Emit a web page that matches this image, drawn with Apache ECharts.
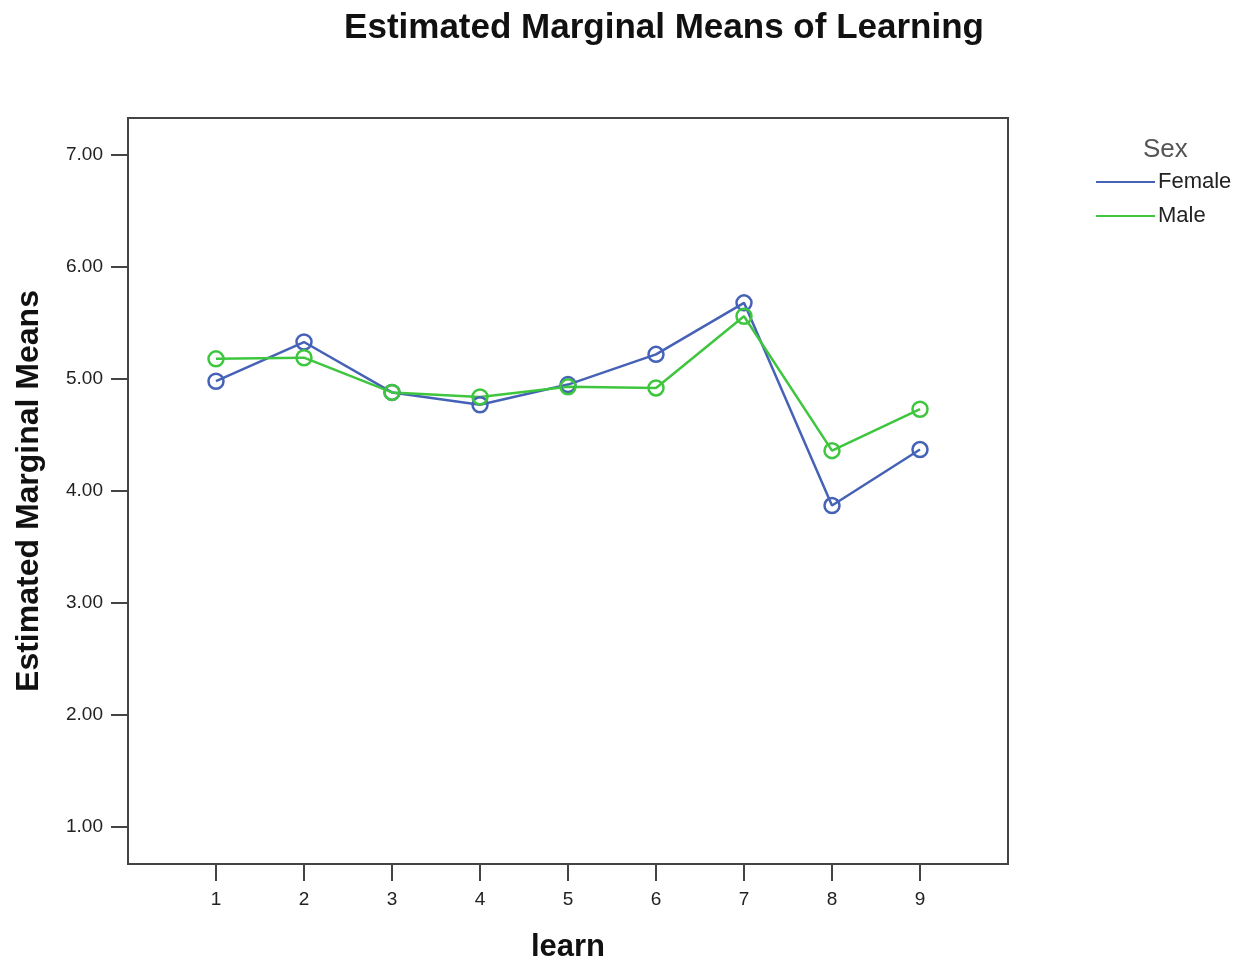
<!DOCTYPE html>
<html>
<head>
<meta charset="utf-8">
<script src="https://cdn.jsdelivr.net/npm/echarts@6/dist/echarts.min.js"></script>
<style>
  html, body { margin: 0; padding: 0; background: #fff; }
  #chart { width: 1248px; height: 964px; }
</style>
</head>
<body>
<div id="chart"></div>
<script>
// learn levels and estimated marginal means per sex
var learnLevels = [1, 2, 3, 4, 5, 6, 7, 8, 9];
var female = [4.98, 5.33, 4.88, 4.77, 4.95, 5.22, 5.68, 3.87, 4.37];
var male = [5.18, 5.19, 4.88, 4.84, 4.93, 4.92, 5.56, 4.36, 4.73];
var yTicks = [1, 2, 3, 4, 5, 6, 7];

var blue = "#4562b7";
var green = "#3fc63f";
var axisColor = "#444";
var font = "Liberation Sans, Arial, sans-serif";

function pairs(vals) {
  return learnLevels.map(function (x, i) {
    return [x, vals[i]];
  });
}

var myChart = echarts.init(document.getElementById("chart"));
var option = {
  backgroundColor: "#fff",
  animation: false,
  title: [
    {
      text: "Estimated Marginal Means of Learning",
      left: 664,
      top: 11,
      padding: 0,
      textAlign: "center",
      textStyle: { fontFamily: font, fontSize: 35, fontWeight: "bold", color: "#111" },
    },
    {
      text: "Sex",
      left: 1143,
      top: 137,
      padding: 0,
      textStyle: { fontFamily: font, fontSize: 26, fontWeight: "normal", color: "#555" },
    },
  ],
  legend: {
    orient: "vertical",
    left: 1096,
    top: 171,
    padding: 0,
    icon: "rect",
    itemWidth: 59,
    itemHeight: 2,
    itemGap: 12,
    textStyle: { fontFamily: font, fontSize: 22, color: "#222", lineHeight: 22, padding: [0, 0, 0, -2] },
    data: [
      { name: "Female", itemStyle: { color: blue, borderWidth: 0 } },
      { name: "Male", itemStyle: { color: green, borderWidth: 0 } },
    ],
  },
  grid: {
    left: 128,
    top: 118,
    right: 240,
    bottom: 100,
    outerBoundsMode: "none",
    show: true,
    borderColor: axisColor,
    borderWidth: 2,
  },
  xAxis: {
    type: "value",
    min: 0,
    max: 10,
    name: "learn",
    nameLocation: "middle",
    nameGap: 68,
    nameTextStyle: { fontFamily: font, fontSize: 31, fontWeight: "bold", color: "#111" },
    splitLine: { show: false },
    axisLine: { show: true, lineStyle: { color: axisColor, width: 2 } },
    axisTick: {
      show: true,
      length: 17,
      customValues: learnLevels,
      lineStyle: { color: axisColor, width: 2 },
    },
    axisLabel: {
      customValues: learnLevels,
      margin: 26,
      fontFamily: font,
      fontSize: 19,
      color: "#222",
    },
  },
  yAxis: {
    type: "value",
    min: 0.67,
    max: 7.33,
    name: "Estimated Marginal Means",
    nameLocation: "middle",
    nameGap: 83,
    nameTextStyle: { fontFamily: font, fontSize: 32, fontWeight: "bold", color: "#111" },
    splitLine: { show: false },
    axisLine: { show: true, lineStyle: { color: axisColor, width: 2 } },
    axisTick: {
      show: true,
      length: 17,
      customValues: yTicks,
      lineStyle: { color: axisColor, width: 2 },
    },
    axisLabel: {
      customValues: yTicks,
      margin: 25,
      fontFamily: font,
      fontSize: 19,
      color: "#222",
      formatter: function (v) {
        return v.toFixed(2);
      },
    },
  },
  series: [
    {
      name: "Female",
      type: "line",
      data: pairs(female),
      symbol: "circle",
      symbolSize: 15,
      lineStyle: { color: blue, width: 2.5 },
      itemStyle: { color: "rgba(0,0,0,0)", borderColor: blue, borderWidth: 2.5 },
    },
    {
      name: "Male",
      type: "line",
      data: pairs(male),
      symbol: "circle",
      symbolSize: 15,
      lineStyle: { color: green, width: 2.5 },
      itemStyle: { color: "rgba(0,0,0,0)", borderColor: green, borderWidth: 2.5 },
    },
  ],
};
myChart.setOption(option, true);
window.addEventListener("resize", function () {
  myChart.resize();
});
</script>
</body>
</html>
